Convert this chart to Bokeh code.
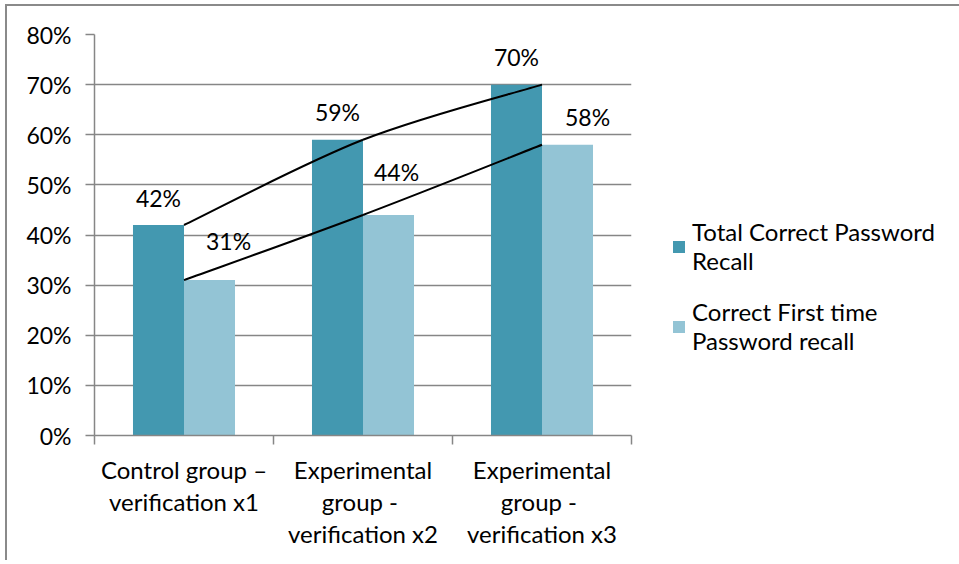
from bokeh.plotting import figure
from bokeh.models import (FixedTicker, Label, Legend, LegendItem, Range1d)
from bokeh.embed import file_html
from bokeh.resources import INLINE

# ---------------- data ----------------
categories = [
    "Control group –\nverification x1",
    "Experimental\ngroup  -\nverification x2",
    "Experimental\ngroup  -\nverification x3",
]
series_names = ["Total Correct Password\nRecall", "Correct First time\nPassword recall"]
total_correct = [42, 59, 70]
first_time = [31, 44, 58]
y_ticks = [0, 10, 20, 30, 40, 50, 60, 70, 80]

# ---------------- style ----------------
FONT = "Lato"
FS = "23px"
DARK = "#4398B0"
LIGHT = "#93C4D5"
GRID = "#868686"
BAR_W = 0.285
dark_nudge = [(0, 27), (0, 28), (0, 28)]
light_nudge = [(19, 39), (8, 43), (20, 28)]

p = figure(frame_width=537, frame_height=401, x_range=Range1d(0, 3), y_range=Range1d(0, 80),
           output_backend="svg", toolbar_location=None,
           min_border_left=87, min_border_top=28, min_border_bottom=125,
           min_border_right=325)
p.styles = {"border-top": "2px solid #8a8a8a", "border-left": "2px solid #8a8a8a",
            "margin-left": "5px", "margin-top": "4px"}
p.outline_line_color = None
p.background_fill_color = "white"
p.border_fill_color = "white"

# y axis
p.yaxis.ticker = FixedTicker(ticks=y_ticks)
p.yaxis.major_label_overrides = {t: f"{t}%" for t in y_ticks}
p.yaxis.axis_line_color = GRID
p.yaxis.axis_line_width = 1.5
p.yaxis.major_tick_line_color = GRID
p.yaxis.major_tick_line_width = 1.5
p.yaxis.major_tick_out = 9
p.yaxis.major_tick_in = 0
p.yaxis.minor_tick_line_color = None
p.yaxis.major_label_text_font = FONT
p.yaxis.major_label_text_font_size = FS
p.yaxis.major_label_text_color = "black"
p.yaxis.major_label_standoff = 14
p.ygrid.ticker = FixedTicker(ticks=y_ticks)
p.ygrid.grid_line_color = GRID
p.ygrid.grid_line_width = 1.5

# x axis: labels at category centres, ticks at category boundaries
centers = [i + 0.5 for i in range(len(categories))]
p.xaxis.ticker = FixedTicker(ticks=centers, minor_ticks=[0, 1, 2, 3])
p.xaxis.major_label_overrides = {c: lab for c, lab in zip(centers, categories)}
p.xaxis.axis_line_color = GRID
p.xaxis.axis_line_width = 1.5
p.xaxis.minor_tick_line_color = GRID
p.xaxis.minor_tick_line_width = 1.5
p.xaxis.minor_tick_out = 9
p.xaxis.minor_tick_in = 0
p.xaxis.major_tick_line_color = None
p.xaxis.major_tick_out = 0
p.xaxis.major_tick_in = 0
p.xaxis.major_label_standoff = 10
p.xaxis.major_label_text_font = FONT
p.xaxis.major_label_text_font_size = "24px"
p.xaxis.major_label_text_color = "black"
p.xaxis.major_label_text_line_height = 1.12
p.xaxis.major_label_text_align = "center"
p.xgrid.visible = False

# bars
r_dark = p.vbar(x=[c - BAR_W / 2 for c in centers], top=total_correct, width=BAR_W,
                fill_color=DARK, line_color=None)
r_light = p.vbar(x=[c + BAR_W / 2 for c in centers], top=first_time, width=BAR_W,
                 fill_color=LIGHT, line_color=None)

# smooth trend curves through the values (Catmull-Rom as cubic Bezier)
def bezier_segments(xs, ys):
    n = len(xs)
    seg = dict(x0=[], y0=[], x1=[], y1=[], cx0=[], cy0=[], cx1=[], cy1=[])
    for i in range(n - 1):
        pm = max(i - 1, 0)
        pn = min(i + 2, n - 1)
        seg["x0"].append(xs[i]); seg["y0"].append(ys[i])
        seg["x1"].append(xs[i + 1]); seg["y1"].append(ys[i + 1])
        seg["cx0"].append(xs[i] + (xs[i + 1] - xs[pm]) / 6)
        seg["cy0"].append(ys[i] + (ys[i + 1] - ys[pm]) / 6)
        seg["cx1"].append(xs[i + 1] - (xs[pn] - xs[i]) / 6)
        seg["cy1"].append(ys[i + 1] - (ys[pn] - ys[i]) / 6)
    return seg

for vals in (total_correct, first_time):
    s = bezier_segments(centers, vals)
    p.bezier(line_color="black", line_width=2, **s)

# data labels
for i, c in enumerate(centers):
    dx, dy = dark_nudge[i]
    p.add_layout(Label(x=c - BAR_W / 2, y=total_correct[i], x_offset=dx, y_offset=dy,
                       text=f"{total_correct[i]}%", text_align="center",
                       text_baseline="middle", text_font=FONT, text_font_size=FS,
                       text_color="black"))
    dx, dy = light_nudge[i]
    p.add_layout(Label(x=c + BAR_W / 2, y=first_time[i], x_offset=dx, y_offset=dy,
                       text=f"{first_time[i]}%", text_align="center",
                       text_baseline="middle", text_font=FONT, text_font_size=FS,
                       text_color="black"))

# legend in the right panel
legend = Legend(items=[LegendItem(label=series_names[0], renderers=[r_dark]),
                       LegendItem(label=series_names[1], renderers=[r_light])],
                location=(40, 80), orientation="vertical",
                label_text_font=FONT, label_text_font_size="24px", label_text_color="black",
                label_text_line_height=1.6,
                glyph_width=15, glyph_height=15, label_standoff=6, spacing=22,
                padding=0, margin=0, border_line_color=None, background_fill_alpha=0)
p.add_layout(legend, "right")

open("out.html", "w").write(file_html(p, INLINE))
